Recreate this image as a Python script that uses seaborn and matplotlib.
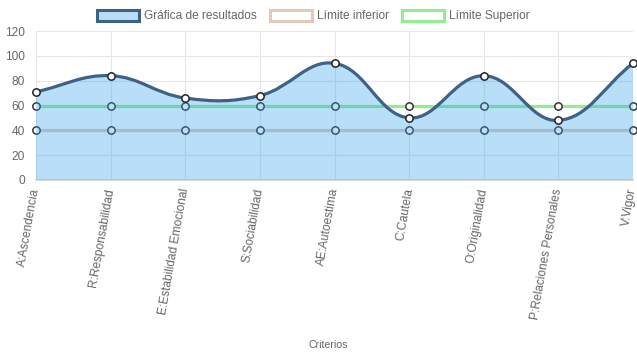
import numpy as np
import pandas as pd
import matplotlib
matplotlib.use("Agg")
import matplotlib.pyplot as plt
from matplotlib.path import Path
from matplotlib.patches import PathPatch, Patch
import seaborn as sns

criterios = ["A:Ascendencia", "R:Responsabilidad", "E:Estabilidad Emocional",
             "S:Sociabilidad", "AE:Autoestima", "C:Cautela", "O:Originalidad",
             "P:Relaciones Personales", "V:Vigor"]
resultados = [71, 84, 66, 68, 94, 50, 84, 48, 94]
limite_inferior = [40, 40, 40, 40, 40, 40, 40, 40, 40]
limite_superior = [60, 60, 60, 60, 60, 60, 60, 60, 60]
y_ticks = [0, 20, 40, 60, 80, 100, 120]

c_fill = (54/255, 162/255, 235/255, 0.35)
c_line = "#3e6185"
c_inf = "#e6c8bb"
c_sup = "#90ee90"
c_text = "#666666"
c_grid = "#e6e6e6"


def spline_path(ax, xs, ys, tension=0.4):
    # bezier control points like chart.js, computed in pixel space
    pts = ax.transData.transform(np.column_stack([xs, ys]))
    n = len(pts)
    prev_cp, next_cp = [], []
    for i in range(n):
        p0 = pts[max(i - 1, 0)]
        p1 = pts[i]
        p2 = pts[min(i + 1, n - 1)]
        d01 = np.hypot(*(p1 - p0))
        d12 = np.hypot(*(p2 - p1))
        tot = d01 + d12
        s01 = d01 / tot if tot else 0
        s12 = d12 / tot if tot else 0
        prev_cp.append(p1 - tension * s01 * (p2 - p0))
        next_cp.append(p1 + tension * s12 * (p2 - p0))
    verts = [pts[0]]
    codes = [Path.MOVETO]
    for i in range(n - 1):
        verts += [next_cp[i], prev_cp[i + 1], pts[i + 1]]
        codes += [Path.CURVE4] * 3
    verts = ax.transData.inverted().transform(np.array(verts))
    verts[:, 1] = np.clip(verts[:, 1], y_ticks[0], y_ticks[-1])
    return verts, codes


sns.set_style("white")
plt.rcParams["font.family"] = ["Liberation Sans", "DejaVu Sans"]

fig = plt.figure(figsize=(6.37, 3.59), dpi=100)
ax = fig.add_axes([36 / 637, 1 - 180 / 359, (633 - 36) / 637, (180 - 31) / 359])

x = np.arange(len(criterios))
df = pd.DataFrame({"x": x, "res": resultados, "inf": limite_inferior, "sup": limite_superior})

ax.set_xlim(x[0], x[-1])
ax.set_ylim(y_ticks[0], y_ticks[-1])

sns.lineplot(data=df, x="x", y="inf", ax=ax, color=c_inf, lw=2.3, zorder=2)
sns.lineplot(data=df, x="x", y="sup", ax=ax, color=c_sup, lw=2.3, zorder=2)
for col in ["inf", "sup"]:
    ax.scatter(df["x"], df[col], s=28, facecolor="white", edgecolor="#333333",
               linewidth=1.1, zorder=2.5, clip_on=False)

verts, codes = spline_path(ax, df["x"], df["res"])
fill_verts = np.vstack([verts, [[x[-1], 0], [x[0], 0], [x[0], 0]]])
fill_codes = codes + [Path.LINETO, Path.LINETO, Path.CLOSEPOLY]
ax.add_patch(PathPatch(Path(fill_verts, fill_codes), facecolor=c_fill,
                       edgecolor="none", zorder=3))
ax.add_patch(PathPatch(Path(verts, codes), facecolor="none", edgecolor=c_line,
                       lw=2.3, zorder=4, capstyle="round", joinstyle="round"))
ax.scatter(df["x"], df["res"], s=28, facecolor="white", edgecolor="#222222",
           linewidth=1.1, zorder=5, clip_on=False)

ax.set_xticks(x)
ax.set_xticklabels(criterios, rotation=80, ha="right", va="center",
                   rotation_mode="anchor", fontsize=8.6, color=c_text)
ax.set_yticks(y_ticks)
ax.set_yticklabels([str(v) for v in y_ticks], fontsize=8.6, color=c_text)
ax.tick_params(axis="both", length=6, width=0.8, color=c_grid, pad=2)
ax.tick_params(axis="x", pad=0)
ax.grid(True, color=c_grid, lw=0.8)
ax.set_axisbelow(True)
for s in ["top", "right", "left"]:
    ax.spines[s].set_visible(False)
ax.spines["bottom"].set_color("#d6d6d6")
ax.spines["bottom"].set_linewidth(1.2)
ax.set_xlabel("Criterios", color=c_text, fontsize=7.6, labelpad=0)
ax.xaxis.set_label_coords(0.49, -160 / 149)
ax.set_ylabel("")

handles = [
    Patch(facecolor=c_fill, edgecolor=c_line, lw=2.2),
    Patch(facecolor="white", edgecolor=c_inf, lw=2.2),
    Patch(facecolor="white", edgecolor=c_sup, lw=2.2),
]
fig.legend(handles, ["Gráfica de resultados", "Límite inferior", "Límite Superior"],
           loc="center", bbox_to_anchor=(0.492, 1 - 16 / 359), ncol=3, frameon=False,
           fontsize=8.6, labelcolor=c_text, handlelength=3.5, handleheight=1.1,
           handletextpad=0.45, columnspacing=1.1, borderaxespad=0)

fig.savefig("out.png", dpi=100)
